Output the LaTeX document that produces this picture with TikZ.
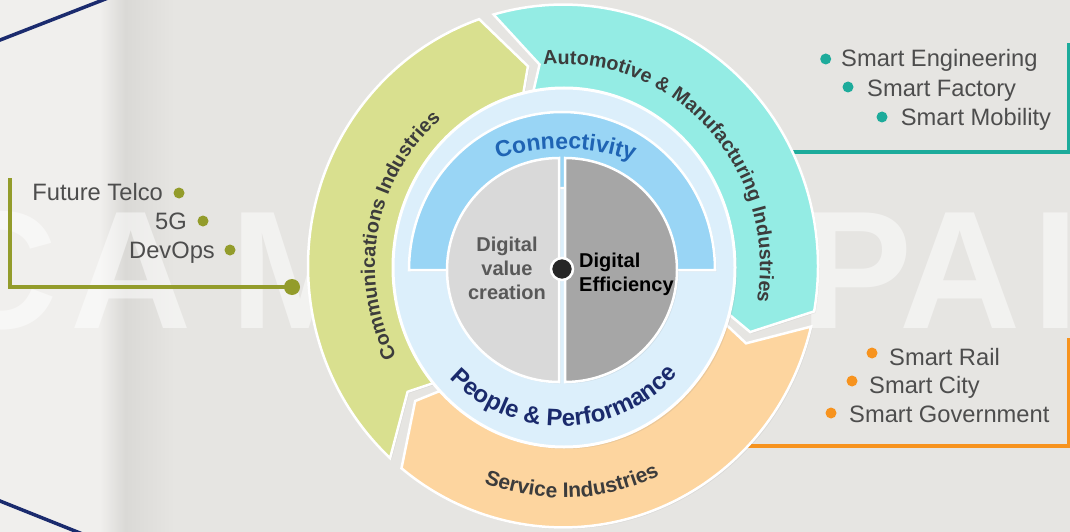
\documentclass[tikz,border=0pt]{standalone}
\usepackage{fontspec}
\setmainfont{Liberation Sans}
\usetikzlibrary{decorations.text,shadows}
\definecolor{bgA}{HTML}{E6E5E2}
\definecolor{bgL}{HTML}{F0EFED}
\definecolor{bgD}{HTML}{DAD9D6}
\definecolor{ringG}{HTML}{D9E08F}
\definecolor{ringT}{HTML}{94ECE4}
\definecolor{ringP}{HTML}{FDD59F}
\definecolor{diskC}{HTML}{DCEFFB}
\definecolor{bandC}{HTML}{99D5F5}
\definecolor{halfL}{HTML}{D9D9D9}
\definecolor{halfR}{HTML}{A6A6A6}
\definecolor{ringtext}{HTML}{3C3C3C}
\definecolor{connC}{HTML}{1F64B4}
\definecolor{peopleC}{HTML}{1A2A6C}
\definecolor{listC}{HTML}{4D4D4D}
\definecolor{gL}{HTML}{939C2B}
\definecolor{tL}{HTML}{1DAB9B}
\definecolor{oL}{HTML}{F7931E}
\definecolor{navyL}{HTML}{1B2B6E}
\definecolor{dvcC}{HTML}{595959}
\newcommand\myringseg[3]{%
  \fill[#1, draw=white, line width=2.5pt, drop shadow={opacity=0.12, shadow xshift=1.5pt, shadow yshift=-1.5pt}]
    (#2:255) arc[start angle=#2, end angle=#3, radius=255] -- ({#3-9}:198) -- (#3:140)
    arc[start angle=#3, end angle=#2, radius=140] -- ({#2-9}:198) -- cycle;}
\tikzset{
  listtext/.style={font=\fontsize{23.7}{28}\selectfont, text=listC, inner sep=0pt},
  smalldot/.style={circle, fill=#1, inner sep=0pt, minimum size=11pt},
  bigdot/.style={circle, fill=#1, inner sep=0pt, minimum size=16pt},
  bracket/.style={draw=#1, line width=3.5pt},
  wmark/.style={font=\fontsize{168}{170}\selectfont\bfseries, text=white, text opacity=0.5, inner sep=0pt, anchor=base},
  navyline/.style={draw=navyL, line width=3.5pt},
}
\begin{document}
\begin{tikzpicture}[x=1pt,y=1pt]
\useasboundingbox (0,-532) rectangle (1070,0);
% background
\fill[bgA] (0,-532) rectangle (1070,0);
\fill[bgL] (0,-532) rectangle (100,0);
\shade[left color=bgL, right color=bgD] (100,-532) rectangle (125,0);
\shade[left color=bgD, right color=bgA] (125,-532) rectangle (175,0);
% watermark letters
\node[wmark] (w1) at (-3,-328) {C};
\node[wmark] (w2) at (131,-328) {A};
\node[wmark] (w3) at (300,-328) {M};
\node[wmark] (w4) at (857,-328) {P};
\node[wmark] (w5) at (960,-328) {A};
\node[wmark] (w6) at (1056,-328) {I};
% navy lines
\coordinate (n1) at (-5,-42);
\coordinate (n2) at (108,2);
\coordinate (n3) at (-5,-499);
\coordinate (n4) at (85,-535);
\draw[navyline] (n1) -- (n2);
\draw[navyline] (n3) -- (n4);
% brackets
\coordinate (gtop) at (10,-178);
\coordinate (gcorner) at (10,-287);
\node[bigdot=gL] (gend) at (292,-287) {};
\draw[bracket=gL] (gtop) -- (gcorner) -- (gend.center);
\coordinate (tstart) at (760,-152);
\coordinate (tcorner) at (1068.5,-152);
\coordinate (ttop) at (1068.5,-43);
\draw[bracket=tL] (tstart) -- (tcorner) -- (ttop);
\coordinate (ostart) at (720,-446);
\coordinate (ocorner) at (1068.5,-446);
\coordinate (otop) at (1068.5,-338);
\draw[bracket=oL] (ostart) -- (ocorner) -- (otop);
% outer ring
\begin{scope}[shift={(563,-266)}, yscale=1.025]
\myringseg{ringG}{227.3}{109.2}
\myringseg{ringT}{105.8}{-10}
\myringseg{ringP}{-13.4}{-129.3}
\path[decorate, decoration={text along path, text align=center,
  text={|\fontsize{19.7}{22}\selectfont\bfseries\color{ringtext}|Communications Industries}}]
  (244:188) arc[start angle=244, end angle=94, radius=188];
\path[decorate, decoration={text along path, text align=center,
  text={|\fontsize{19.7}{22}\selectfont\bfseries\color{ringtext}|Automotive {\&} Manufacturing Industries}}]
  (128:197) arc[start angle=128, end angle=-42, radius=197];
\path[decorate, decoration={text along path, text align=center,
  text={|\fontsize{21}{22}\selectfont\bfseries\color{ringtext}|Service Industries}}]
  (-147.6:226) arc[start angle=-147.6, end angle=-27.6, radius=226];
\end{scope}
% light blue disk
\fill[diskC, draw=white, line width=3pt, drop shadow={opacity=0.15, shadow xshift=2pt, shadow yshift=-2pt}]
  (564,-267.5) ellipse[x radius=171, y radius=179.5];
% connectivity band
\fill[bandC, draw=white, line width=2.5pt, drop shadow={opacity=0.12, shadow xshift=1.5pt, shadow yshift=-1.5pt}]
  (409,-270) arc[start angle=180, end angle=0, x radius=153, y radius=158]
  -- (644,-270) arc[start angle=0, end angle=180, radius=82] -- cycle;
\path[decorate, decoration={text along path, text align=center,
  text={|\fontsize{23}{24}\selectfont\bfseries\color{connC}|Connectivity}}]
  ([shift={(562,-270)}]148.5:165 and 121) arc[start angle=148.5, end angle=28.5, x radius=165, y radius=121];
\path[decorate, decoration={text along path, text align=center,
  text={|\fontsize{24}{24}\selectfont\bfseries\color{peopleC}|People {\&} Performance}}]
  ([shift={(562,-270)}]-169:156) arc[start angle=-169, end angle=-9, radius=156];
% halves
\fill[halfL, draw=white, line width=2.5pt, drop shadow={opacity=0.15, shadow xshift=1.5pt, shadow yshift=-1.5pt}]
  (559,-158) arc[start angle=90, end angle=270, radius=112] -- cycle;
\fill[halfR, draw=white, line width=2.5pt, drop shadow={opacity=0.15, shadow xshift=1.5pt, shadow yshift=-1.5pt}]
  (565,-158) arc[start angle=90, end angle=-90, radius=112] -- cycle;
\node[align=center, font=\fontsize{20}{24}\selectfont\bfseries, text=dvcC, inner sep=0pt] (dvc) at (507,-268) {Digital\\value\\creation};
\node[align=left, font=\fontsize{20}{24}\selectfont\bfseries, text=black, inner sep=0pt, anchor=west] (deff) at (579,-274.8) {Digital\\Efficiency};
\node[circle, fill=black!85, draw=white, line width=2.5pt, minimum size=22pt, inner sep=0pt] (hub) at (562,-269) {};
% lists
\node[listtext, anchor=base east] (ft) at (163,-200.7) {Future Telco};
\node[listtext, anchor=base east] (fg) at (187,-229) {5G};
\node[listtext, anchor=base east] (dv) at (215,-258) {DevOps};
\node[smalldot=gL] (ftd) at (179,-193) {};
\node[smalldot=gL] (fgd) at (203,-221) {};
\node[smalldot=gL] (dvd) at (230,-250) {};
\node[listtext, anchor=base west] (se) at (841,-67) {Smart Engineering};
\node[listtext, anchor=base west] (sf) at (867,-96.7) {Smart Factory};
\node[listtext, anchor=base west] (sm) at (900.7,-125.7) {Smart Mobility};
\node[smalldot=tL] (sed) at (825.7,-59) {};
\node[smalldot=tL] (sfd) at (848,-87) {};
\node[smalldot=tL] (smd) at (882,-117) {};
\node[listtext, anchor=base west] (sr) at (889,-365) {Smart Rail};
\node[listtext, anchor=base west] (sc) at (869,-393) {Smart City};
\node[listtext, anchor=base west] (sg) at (849,-422) {Smart Government};
\node[smalldot=oL] (srd) at (872,-353) {};
\node[smalldot=oL] (scd) at (852,-381) {};
\node[smalldot=oL] (sgd) at (831,-413) {};
\end{tikzpicture}
\end{document}
